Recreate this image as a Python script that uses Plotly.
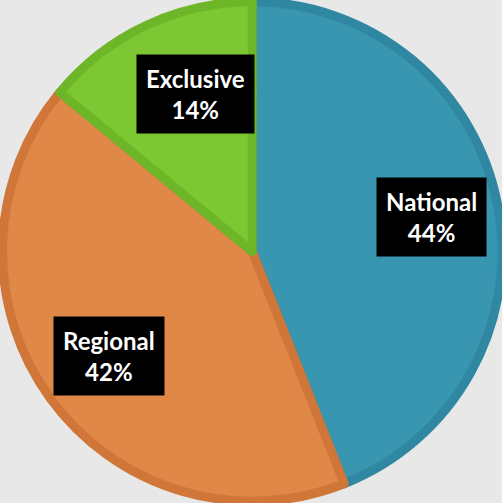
import math
import plotly.graph_objects as go

labels = ["National", "Regional", "Exclusive"]
values = [44, 42, 14]
fill_colors = ["#3896B0", "#E08848", "#7DC832"]
edge_colors = ["#2F87A1", "#CF7638", "#6DB628"]

W, H = 502, 503
R = 250.0

fig = go.Figure(go.Pie(
    labels=labels, values=values, sort=False, direction="clockwise", rotation=0,
    marker=dict(colors=fill_colors, line=dict(color=edge_colors, width=9)),
    textinfo="none", hoverinfo="skip", showlegend=False,
    domain=dict(x=[0.005, 1.0], y=[0.0, 1.0]),
))

cx = (0.005 + 1.0) / 2
cy = 0.5
total = sum(values)
cum = 0
radial = [0.73, 0.71, 0.67]
angle_shift = [0.0, 0.0, 5.5]  # degrees
anns = []
for lab, v, rr, sh in zip(labels, values, radial, angle_shift):
    mid = (cum + v / 2) / total * 2 * math.pi + math.radians(sh)
    cum += v
    dx = math.sin(mid)
    dy = math.cos(mid)
    x = cx + rr * R * dx / W
    y = cy + rr * R * dy / H
    anns.append(dict(
        x=x, y=y, xref="paper", yref="paper", showarrow=False,
        xanchor="center", yanchor="middle",
        text=f"<b>{lab}</b><br><b>{round(100 * v / total)}%</b>",
        font=dict(family="Lato, Open Sans, sans-serif", size=24, color="white"),
        bgcolor="black", borderpad=9, align="center",
    ))

fig.update_layout(
    width=W, height=H, margin=dict(l=0, r=0, t=0, b=0),
    paper_bgcolor="#E8E8E8", plot_bgcolor="#E8E8E8",
    annotations=anns,
)
fig.write_html("out.html")
